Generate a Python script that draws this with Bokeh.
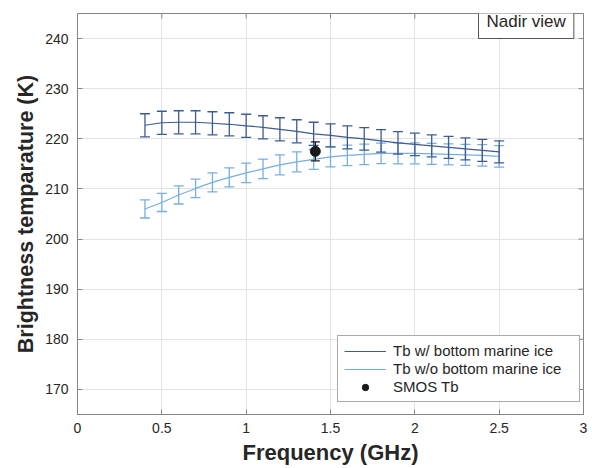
import math
from bokeh.plotting import figure
from bokeh.models import (ColumnDataSource, Legend, LegendItem, Label,
                          FixedTicker, Range1d)
from bokeh.embed import file_html
from bokeh.resources import INLINE

freq = [0.4, 0.5, 0.6, 0.7, 0.8, 0.9, 1.0, 1.1, 1.2, 1.3, 1.4,
        1.5, 1.6, 1.7, 1.8, 1.9, 2.0, 2.1, 2.2, 2.3, 2.4, 2.5]
tb_with = [222.7, 223.2, 223.3, 223.3, 223.1, 222.9, 222.6, 222.3, 221.9, 221.5, 221.0,
           220.7, 220.3, 220.0, 219.6, 219.2, 218.9, 218.6, 218.3, 218.0, 217.7, 217.4]
err_with = [2.3, 2.3, 2.3, 2.3, 2.3, 2.3, 2.3, 2.3, 2.3, 2.3, 2.3,
            2.3, 2.3, 2.25, 2.25, 2.25, 2.25, 2.2, 2.2, 2.2, 2.2, 2.2]
tb_without = [206.0, 207.3, 208.8, 210.1, 211.3, 212.3, 213.2, 214.0, 214.8, 215.4, 215.9,
              216.4, 216.7, 216.9, 217.1, 217.1, 217.1, 217.0, 216.9, 216.8, 216.7, 216.5]
err_without = [1.8, 1.8, 1.8, 1.85, 1.9, 1.9, 1.95, 1.95, 2.0, 2.0, 2.0,
               2.0, 2.05, 2.05, 2.05, 2.1, 2.1, 2.1, 2.1, 2.1, 2.15, 2.15]
smos_freq = [1.41]
smos_tb = [217.5]
smos_err = [1.9]

x_ticks = [0, 0.5, 1, 1.5, 2, 2.5, 3]
y_ticks = [170, 180, 190, 200, 210, 220, 230, 240]
x_lim = (0, 3)
y_lim = (165, 245)

DARK = "#3d5b93"
LIGHT = "#76aee2"
FONT = "Liberation Sans"
TXT = "#262626"
AX = "#858585"

p = figure(width=588, height=468, output_backend="svg", toolbar_location=None,
           x_range=Range1d(*x_lim), y_range=Range1d(*y_lim),
           min_border_left=77, min_border_top=13, min_border_right=5, min_border_bottom=54,
           background_fill_color="white", border_fill_color="white")
p.outline_line_color = AX

for ax in (p.xaxis[0], p.yaxis[0]):
    ax.axis_line_color = AX
    ax.major_tick_line_color = AX
    ax.major_tick_in = 5
    ax.major_tick_out = 0
    ax.minor_tick_line_color = None
    ax.major_label_text_font = FONT
    ax.major_label_text_color = TXT
    ax.major_label_text_font_size = "14px"
    ax.axis_label_text_font = FONT
    ax.axis_label_text_font_style = "bold"
    ax.axis_label_text_color = TXT

p.xaxis.axis_label_text_font_size = "22px"
p.yaxis.axis_label_text_font_size = "21.5px"
p.xaxis.ticker = FixedTicker(ticks=x_ticks)
p.yaxis.ticker = FixedTicker(ticks=y_ticks)
p.xaxis.major_label_overrides = {0: "0", 1: "1", 2: "2", 3: "3"}
p.xaxis.axis_label = "Frequency (GHz)"
p.yaxis.axis_label = "Brightness temparature (K)"
p.xaxis.major_label_standoff = 8
p.yaxis.major_label_standoff = 9
p.xaxis.axis_label_standoff = 4
p.yaxis.axis_label_standoff = 4

p.grid.grid_line_color = "#e3e3e3"
p.xgrid.ticker = FixedTicker(ticks=x_ticks)
p.ygrid.ticker = FixedTicker(ticks=y_ticks)

# inward tick marks on the top and right frame edges (half of each dash is clipped)
p.scatter(x=x_ticks, y=[y_lim[1]] * len(x_ticks), marker="dash", angle=math.pi / 2,
          size=10, line_color=AX, line_width=1)
p.scatter(x=[x_lim[1]] * len(y_ticks), y=y_ticks, marker="dash",
          size=10, line_color=AX, line_width=1)

def errorbars(xs, ys, es, color, cap=10, lw=1.3):
    src = ColumnDataSource(dict(x=xs, y=ys,
                                lo=[y - e for y, e in zip(ys, es)],
                                hi=[y + e for y, e in zip(ys, es)]))
    r1 = p.segment(x0="x", y0="lo", x1="x", y1="hi", source=src, line_color=color, line_width=lw)
    r2 = p.scatter(x="x", y="lo", marker="dash", size=cap, source=src, line_color=color, line_width=lw)
    r3 = p.scatter(x="x", y="hi", marker="dash", size=cap, source=src, line_color=color, line_width=lw)
    return [r1, r2, r3]

eb_light = errorbars(freq, tb_without, err_without, LIGHT)
l_light = p.line(freq, tb_without, line_color=LIGHT, line_width=1.2)
eb_dark = errorbars(freq, tb_with, err_with, DARK)
l_dark = p.line(freq, tb_with, line_color=DARK, line_width=1.2)
eb_smos = errorbars(smos_freq, smos_tb, smos_err, "#1a1a1a", cap=9)
pt_smos = p.scatter(smos_freq, smos_tb, size=10, marker="circle",
                    fill_color="#1a1a1a", line_color="#1a1a1a")

legend = Legend(items=[
    LegendItem(label="Tb w/ bottom marine ice", renderers=[l_dark]),
    LegendItem(label="Tb w/o bottom marine ice", renderers=[l_light]),
    LegendItem(label="SMOS Tb", renderers=[pt_smos]),
], location=(260, 12), label_text_font=FONT, label_text_font_size="15px",
   label_text_color=TXT, glyph_width=42, glyph_height=16, label_height=16,
   label_width=180, spacing=1, padding=6, margin=0, label_standoff=7,
   border_line_color="#555555", border_line_width=1, background_fill_alpha=1)
p.add_layout(legend)

p.add_layout(Label(x=401, y=376, x_units="screen", y_units="screen", text="Nadir view",
                   text_font=FONT, text_font_size="17px", text_color=TXT,
                   padding=8, border_line_color="#555555", background_fill_color="white"))

open("out.html", "w").write(file_html(p, INLINE))
